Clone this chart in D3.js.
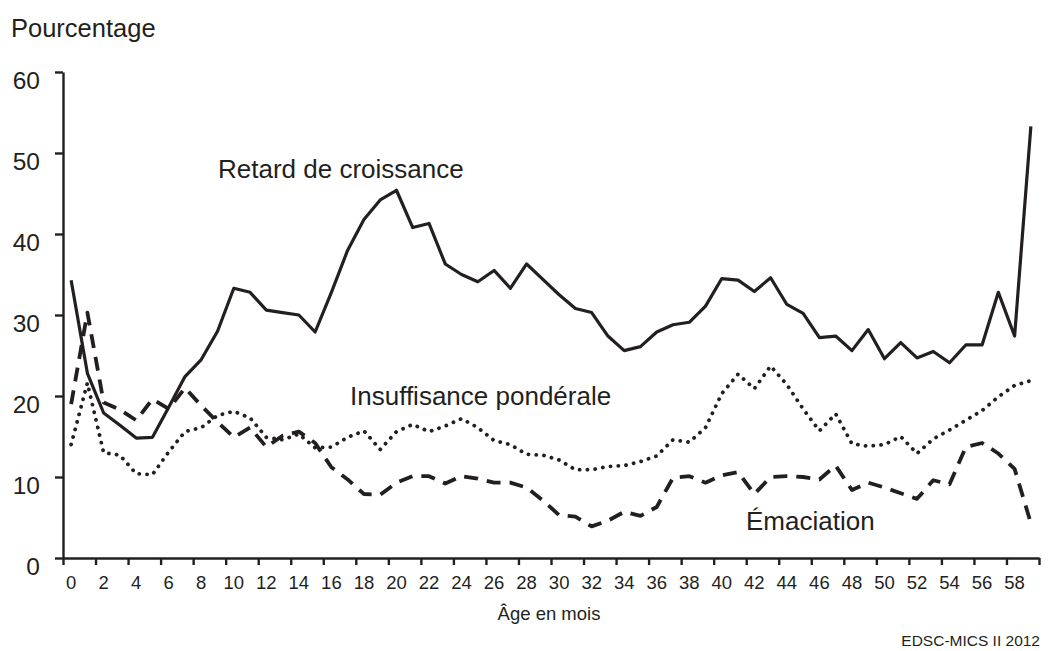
<!DOCTYPE html>
<html>
<head>
<meta charset="utf-8">
<script src="https://cdn.jsdelivr.net/npm/d3@7"></script>
<style>
  body { margin: 0; background: #fff; }
  text { font-family: "Liberation Sans", Arial, sans-serif; fill: #231f20; }
</style>
</head>
<body>
<div id="chart"></div>
<script>
const width = 1050;
const height = 651;
const ink = '#231f20';

// age in months, 0..59
const months = d3.range(60);

const retard = [34.3, 22.8, 17.9, 16.4, 14.8, 14.9, 18.6, 22.4, 24.5, 28.0,
    33.3, 32.8, 30.6, 30.3, 30.0, 27.9, 32.8, 38.0, 41.8, 44.2,
    45.4, 40.8, 41.3, 36.3, 35.0, 34.1, 35.5, 33.3, 36.3, 34.4,
    32.5, 30.8, 30.3, 27.4, 25.6, 26.1, 27.9, 28.8, 29.1, 31.1,
    34.5, 34.3, 32.9, 34.6, 31.3, 30.2, 27.2, 27.4, 25.6, 28.2,
    24.6, 26.6, 24.7, 25.5, 24.1, 26.3, 26.3, 32.8, 27.4, 53.3];

const insuffisance = [14.0, 21.6, 13.0, 12.7, 10.4, 10.3, 13.1, 15.6, 16.1, 17.6,
    18.1, 17.3, 14.9, 14.6, 15.3, 13.6, 13.7, 14.9, 15.7, 13.4,
    15.6, 16.5, 15.6, 16.3, 17.2, 16.1, 14.5, 14.0, 12.8, 12.7,
    12.1, 10.9, 10.9, 11.3, 11.4, 11.9, 12.6, 14.6, 14.3, 16.1,
    20.3, 22.7, 20.9, 23.7, 21.4, 18.4, 15.7, 17.8, 14.1, 13.8,
    14.0, 15.0, 12.9, 14.7, 15.8, 17.0, 18.2, 19.9, 21.3, 21.9];

const emaciation = [19.0, 30.3, 19.2, 18.3, 17.0, 19.6, 18.4, 21.0, 18.8, 16.8,
    14.9, 16.1, 13.7, 15.1, 15.6, 14.2, 11.2, 9.7, 7.9, 7.8,
    9.3, 10.1, 10.1, 9.2, 10.1, 9.8, 9.3, 9.3, 8.7, 7.1,
    5.3, 5.1, 3.9, 4.6, 5.7, 5.2, 6.3, 9.9, 10.1, 9.3,
    10.2, 10.6, 7.9, 10.0, 10.1, 10.0, 9.7, 11.4, 8.4, 9.3,
    8.7, 8.0, 7.3, 9.6, 9.1, 13.7, 14.2, 12.9, 11.0, 4.3];

const yTicks = [0, 10, 20, 30, 40, 50, 60];
const xLabels = d3.range(0, 60, 2);

const series = [
  {name: 'Retard de croissance', values: retard, dash: null, width: 3.2, cap: 'butt', lx: 218, ly: 178},
  {name: 'Insuffisance pondérale', values: insuffisance, dash: '0.1,7.7', width: 3.8, cap: 'round', lx: 350, ly: 405},
  {name: 'Émaciation', values: emaciation, dash: '14,9', width: 3.8, cap: 'butt', lx: 746, ly: 530}
];

const margin = {left: 63, right: 11, top: 72, bottom: 93};

const xBand = d3.scaleBand()
    .domain(months)
    .range([margin.left, width - margin.right])
    .padding(0);
const xEdge = d3.scaleLinear()
    .domain([0, 60])
    .range([margin.left, width - margin.right]);
const y = d3.scaleLinear()
    .domain([0, 60])
    .range([height - margin.bottom, margin.top]);

const svg = d3.select('#chart')
    .append('svg')
    .attr('width', width)
    .attr('height', height);

// y axis
const yAxis = svg.append('g')
    .attr('transform', `translate(${margin.left},0)`)
    .call(d3.axisLeft(y).tickValues(yTicks).tickSize(8).tickSizeOuter(0).tickPadding(15));
yAxis.selectAll('text')
    .attr('dy', null)
    .attr('y', 16)
    .style('font-size', '24.5px')
    .attr('fill', ink);

// x axis: ticks at category boundaries, labels at category centres
svg.append('g')
    .attr('transform', `translate(0,${y(0)})`)
    .call(d3.axisBottom(xEdge).tickValues(d3.range(0, 61, 2)).tickSize(7).tickSizeOuter(0).tickFormat(''));

svg.selectAll('.domain, .tick line')
    .attr('stroke', ink)
    .attr('stroke-width', 2.4);

svg.append('g')
    .selectAll('text')
    .data(xLabels)
    .join('text')
    .attr('x', d => xBand(d) + xBand.bandwidth() / 2)
    .attr('y', y(0) + 31)
    .attr('text-anchor', 'middle')
    .style('font-size', '18.5px')
    .text(d => d);

const line = d3.line()
    .x((d, i) => xBand(months[i]) + xBand.bandwidth() / 2)
    .y(d => y(d));

svg.append('g')
    .selectAll('path')
    .data(series)
    .join('path')
    .attr('fill', 'none')
    .attr('stroke', ink)
    .attr('stroke-width', d => d.width)
    .attr('stroke-linecap', d => d.cap)
    .attr('stroke-linejoin', 'round')
    .attr('stroke-dasharray', d => d.dash)
    .attr('d', d => line(d.values));

svg.append('g')
    .selectAll('text')
    .data(series)
    .join('text')
    .attr('x', d => d.lx)
    .attr('y', d => d.ly)
    .style('font-size', '26px')
    .text(d => d.name);

svg.append('text')
    .attr('x', 11)
    .attr('y', 37)
    .style('font-size', '25.5px')
    .text('Pourcentage');

svg.append('text')
    .attr('x', 549)
    .attr('y', 620)
    .attr('text-anchor', 'middle')
    .style('font-size', '18.5px')
    .text('Âge en mois');

svg.append('text')
    .attr('x', 1040)
    .attr('y', 646)
    .attr('text-anchor', 'end')
    .style('font-size', '15.5px')
    .text('EDSC-MICS II 2012');
</script>
</body>
</html>
